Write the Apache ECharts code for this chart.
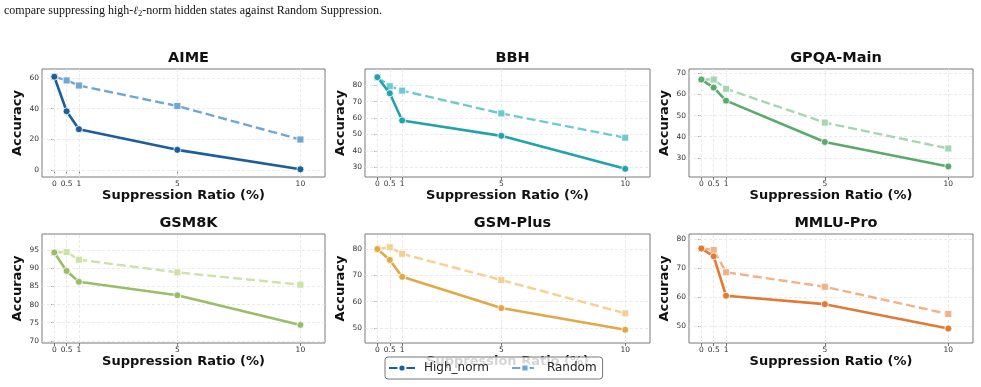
<!DOCTYPE html>
<html>
<head>
<meta charset="utf-8">
<script src="https://cdn.jsdelivr.net/npm/echarts@6/dist/echarts.min.js"></script>
<style>
html,body{margin:0;padding:0;background:#fff;}
#chart{width:981px;height:387px;}
</style>
</head>
<body>
<div id="chart"></div>
<script>
// ---- data ----
const ratios = [0, 0.5, 1, 5, 10];
const xTickValues = [0, 0.5, 1, 5, 10];
const datasets = ['AIME', 'BBH', 'GPQA-Main', 'GSM8K', 'GSM-Plus', 'MMLU-Pro'];
const seriesNames = ['High_norm', 'Random'];

const aimeHigh   = [60.7, 38.3, 26.7, 13.3, 0.7];
const aimeRandom = [60.7, 58.3, 55.0, 41.7, 20.0];
const bbhHigh    = [84.9, 75.1, 58.5, 49.1, 29.0];
const bbhRandom  = [84.9, 79.4, 76.7, 62.8, 48.0];
const gpqaHigh   = [67.1, 63.3, 57.1, 37.5, 25.9];
const gpqaRandom = [67.1, 67.1, 62.7, 46.7, 34.4];
const gsm8kHigh  = [94.4, 89.3, 86.3, 82.6, 74.4];
const gsm8kRandom= [94.4, 94.5, 92.4, 88.9, 85.5];
const gsmPlusHigh  = [79.9, 75.8, 69.4, 57.6, 49.4];
const gsmPlusRandom= [79.9, 80.6, 78.1, 68.2, 55.6];
const mmluHigh   = [76.7, 74.0, 60.4, 57.5, 49.1];
const mmluRandom = [76.7, 76.2, 68.5, 63.5, 54.1];

const yTicksAime  = [0, 20, 40, 60];
const yTicksBbh   = [30, 40, 50, 60, 70, 80];
const yTicksGpqa  = [30, 40, 50, 60, 70];
const yTicksGsm8k = [70, 75, 80, 85, 90, 95];
const yTicksGsmPlus = [50, 60, 70, 80];
const yTicksMmlu  = [50, 60, 70, 80];

const highValues = [aimeHigh, bbhHigh, gpqaHigh, gsm8kHigh, gsmPlusHigh, mmluHigh];
const randomValues = [aimeRandom, bbhRandom, gpqaRandom, gsm8kRandom, gsmPlusRandom, mmluRandom];
const yTicks = [yTicksAime, yTicksBbh, yTicksGpqa, yTicksGsm8k, yTicksGsmPlus, yTicksMmlu];

// ---- styles ----
const highColors   = ['#1b5e98', '#22a3ab', '#5aaa6d', '#9bbd68', '#e2a848', '#e07a34'];
const randomColors = ['#6fa6d2', '#6ec9d3', '#a6d6b1', '#cde2a8', '#f6cf93', '#f3b187'];
const gridLefts = [42, 365, 689];
const gridWidths = [283, 285, 284];
const gridTops = [69, 234];
const gridHeights = [108, 109];

const FONT = 'DejaVu Sans';
const grids = [], xAxes = [], yAxes = [], titles = [], series = [];
const gridLineStyle = { color: '#e4e4e4', type: [3, 2], width: 0.8 };

datasets.forEach((name, i) => {
  const col = i % 3, row = Math.floor(i / 3);
  grids.push({
    left: gridLefts[col], top: gridTops[row], width: gridWidths[col], height: gridHeights[row],
    show: true, borderColor: '#7a7a7a', borderWidth: 1, backgroundColor: '#fff'
  });
  titles.push({
    text: name,
    left: gridLefts[col] + gridWidths[col] / 2,
    top: gridTops[row] - 23,
    textAlign: 'center',
    textStyle: { fontFamily: FONT, fontWeight: 'bold', fontSize: 14.5, color: '#111' }
  });
  const all = highValues[i].concat(randomValues[i]);
  const ymin = Math.min.apply(null, all) - 5;
  const ymax = Math.max.apply(null, all) + 5;
  xAxes.push({
    type: 'value', gridIndex: i, min: -0.5, max: 11,
    name: 'Suppression Ratio (%)', nameLocation: 'middle', nameGap: 12,
    nameTextStyle: { fontFamily: FONT, fontWeight: 'bold', fontSize: 13, color: '#111', verticalAlign: 'top' },
    axisLine: { show: false },
    axisTick: { show: true, length: 3, customValues: xTickValues, lineStyle: { color: '#555', width: 0.8 } },
    axisLabel: { customValues: xTickValues, fontFamily: FONT, fontSize: 7.5, color: '#333', margin: 3 },
    splitLine: { show: false }
  });
  yAxes.push({
    type: 'value', gridIndex: i, min: ymin, max: ymax,
    name: 'Accuracy', nameLocation: 'middle', nameGap: 18,
    nameTextStyle: { fontFamily: FONT, fontWeight: 'bold', fontSize: 13, color: '#111' },
    axisLine: { show: false },
    axisTick: { show: true, length: 3, customValues: yTicks[i], lineStyle: { color: '#555', width: 0.8 } },
    axisLabel: { customValues: yTicks[i], fontFamily: FONT, fontSize: 7.5, color: '#333', margin: 3 },
    splitLine: { show: false }
  });
  const gridMarks = xTickValues.map(v => ({ xAxis: v })).concat(yTicks[i].map(v => ({ yAxis: v })));
  series.push({
    name: seriesNames[1], type: 'line', xAxisIndex: i, yAxisIndex: i,
    data: ratios.map((x, k) => [x, randomValues[i][k]]),
    symbol: 'rect', symbolSize: 7, showSymbol: true,
    lineStyle: { color: randomColors[i], width: 2.4, type: [9, 4] },
    itemStyle: { color: randomColors[i], borderColor: '#fff', borderWidth: 0.8 },
    markLine: {
      silent: true, symbol: ['none', 'none'], z: 1, animation: false,
      label: { show: false }, lineStyle: gridLineStyle,
      emphasis: { disabled: true },
      data: gridMarks
    },
    z: 2, animation: false
  });
  series.push({
    name: seriesNames[0], type: 'line', xAxisIndex: i, yAxisIndex: i,
    data: ratios.map((x, k) => [x, highValues[i][k]]),
    symbol: 'circle', symbolSize: 7, showSymbol: true,
    lineStyle: { color: highColors[i], width: 2.6 },
    itemStyle: { color: highColors[i], borderColor: '#fff', borderWidth: 0.8 },
    z: 3, animation: false
  });
});

const chart = echarts.init(document.getElementById('chart'), null, { renderer: 'canvas' });
chart.setOption({
  backgroundColor: '#fff',
  animation: false,
  title: titles,
  grid: grids,
  xAxis: xAxes,
  yAxis: yAxes,
  series: series,
  legend: {
    data: seriesNames,
    left: 385, top: 357,
    itemWidth: 26, itemHeight: 9, itemGap: 22,
    padding: [5, 6, 5, 3],
    backgroundColor: 'rgba(255,255,255,0.82)',
    borderColor: '#777', borderWidth: 1, borderRadius: 3,
    textStyle: { fontFamily: FONT, fontSize: 12, color: '#222', padding: [0, 0, 0, 4] }
  },
  graphic: [{
    type: 'text', left: 4, top: 5,
    style: {
      text: 'compare suppressing high-{l|ℓ}{s|2}-norm hidden states against Random Suppression.',
      font: '12px "Liberation Serif"', fill: '#111',
      rich: {
        l: { fontFamily: 'DejaVu Serif', fontSize: 11, fontStyle: 'italic', fill: '#111' },
        s: { fontFamily: 'Liberation Serif', fontSize: 8.5, fill: '#111', verticalAlign: 'bottom', padding: [5, 0, 0, 0] }
      }
    }
  }]
});
</script>
</body>
</html>
